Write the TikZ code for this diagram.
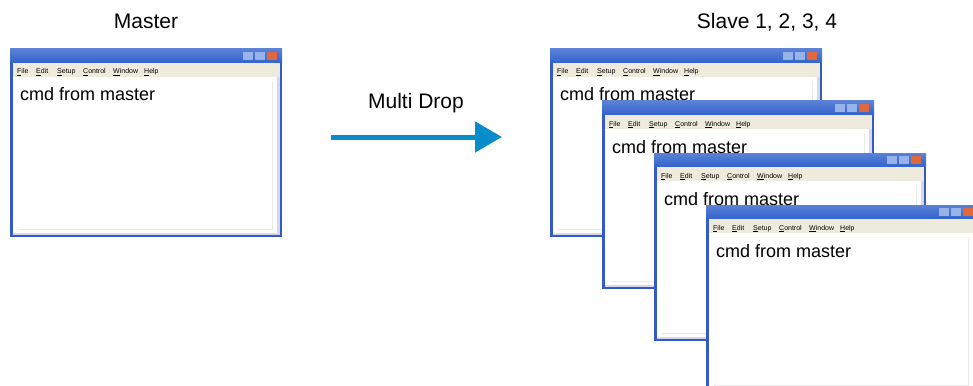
\documentclass[tikz,border=0pt]{standalone}
\usepackage{fontspec}
\setmainfont{Liberation Sans}
\usetikzlibrary{arrows.meta}

\definecolor{xpblue}{RGB}{52,90,196}
\definecolor{xptitle}{RGB}{50,98,204}
\definecolor{xpmenu}{RGB}{238,235,220}
\definecolor{xpbtn}{RGB}{150,180,232}
\definecolor{xpclose}{RGB}{226,104,60}
\definecolor{xpedge}{RGB}{214,214,236}
\definecolor{dropblue}{RGB}{8,140,204}

\tikzset{
  heading/.style={font=\fontsize{21}{24}\selectfont, anchor=base, inner sep=0pt},
  wintext/.style={font=\fontsize{18}{21}\selectfont, anchor=base west, inner sep=0pt},
  menutext/.style={font=\fontsize{7}{8}\selectfont, anchor=base west, inner sep=0pt},
}

% one application window, top left corner at (#2,#3)
\newcommand{\appwin}[3]{%
  \begin{scope}[shift={(#2,#3)}]
    % frame and title bar
    \fill[xpblue] (0,0) rectangle (272,188);
    \shade[top color=xptitle!80!white, bottom color=xptitle] (0,0) rectangle (272,14);
    % buttons
    \fill[xpbtn] (233,3) rectangle (243,11);
    \fill[xpbtn] (245,3) rectangle (255,11);
    \fill[xpclose] (257,3) rectangle (267,11);
    % menu bar and client area
    \fill[xpmenu] (3,14) rectangle (270,28);
    \fill[xpedge] (3,28) rectangle (270,186);
    \fill[white] (3,28) rectangle (267,184);
    \draw[black!8] (8,180) -- (262,180) -- (262,32);
    \foreach \w/\o in {{\underline{F}ile}/7,{\underline{E}dit}/26,{\underline{S}etup}/47,
                       {\underline{C}ontrol}/73,{\underline{W}indow}/103,{\underline{H}elp}/134}
      \node[menutext] at (\o,25) {\w};
    \node[wintext] (#1) at (10,52) {cmd from master};
  \end{scope}}

\begin{document}
\begin{tikzpicture}[x=1pt, y=-1pt]
  \useasboundingbox (0,0) rectangle (973,385);
  \clip (0,0) rectangle (973,385);

  % headings
  \node[heading] (master title) at (146,29) {Master};
  \node[heading] (slave title) at (767,29) {Slave 1, 2, 3, 4};
  \node[heading] (drop title) at (416,108) {Multi Drop};

  % master window
  \appwin{master}{10}{49}

  % slave windows, stacked
  \appwin{slave1}{550}{49}
  \appwin{slave2}{602}{101}
  \appwin{slave3}{654}{153}
  \appwin{slave4}{706}{205}

  % multi drop arrow
  \coordinate (drop start) at (331,137);
  \coordinate (drop end) at (502,137);
  \draw[dropblue, line width=5pt, -{Triangle[length=27pt,width=30pt]}] (drop start) -- (drop end);
\end{tikzpicture}
\end{document}
